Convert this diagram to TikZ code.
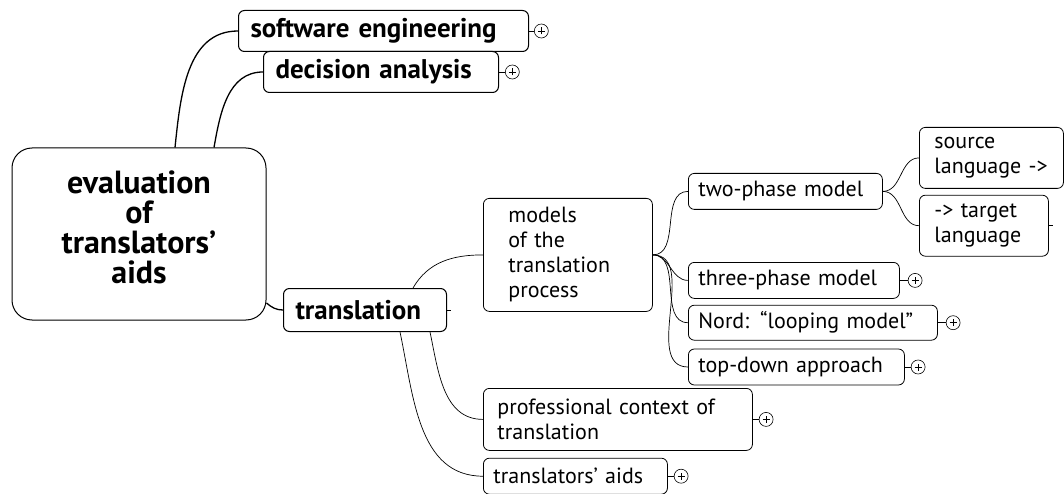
\documentclass[tikz,border=0pt]{standalone}
\usepackage{fontspec}
\setmainfont{PT Sans}
\usepackage{tikz}
\usetikzlibrary{positioning}

\begin{document}
\begin{tikzpicture}[
  x=1pt, y=-1pt,
  node distance=6pt,
  root/.style={draw, line width=1pt, rounded corners=20pt, fill=white, align=center,
    minimum width=254pt, minimum height=172pt, text depth=14pt,
    font=\bfseries\fontsize{32}{30}\selectfont},
  topic/.style={draw, line width=1pt, rounded corners=6pt, fill=white, align=left,
    inner xsep=12pt, minimum height=41pt, font=\bfseries\fontsize{27}{30}\selectfont},
  sub/.style={draw, line width=0.8pt, rounded corners=6pt, fill=white, align=left,
    inner xsep=10pt, minimum height=36pt, font=\fontsize{22}{25}\selectfont},
  plus/.style={circle, draw, line width=0.6pt, minimum size=14pt, inner sep=0pt,
    path picture={\draw[line width=0.6pt]
      ([xshift=-3.5pt]path picture bounding box.center) -- ([xshift=3.5pt]path picture bounding box.center)
      ([yshift=-3.5pt]path picture bounding box.center) -- ([yshift=3.5pt]path picture bounding box.center);}},
  mainlink/.style={line width=1.3pt},
  link/.style={line width=0.7pt}
]
\useasboundingbox (0,0) rectangle (1064,494);

% central topic
\node[root] (root) at (139,234) {evaluation\\of\\translators'\\aids};

% main branches
\node[topic, anchor=north west, text width=266pt] (sweng) at (238,10) {software engineering};
\node[topic, anchor=north west, text width=211pt] (decision) at (263,51) {decision analysis};
\node[topic, anchor=north west, text width=139pt, minimum height=43pt] (transl) at (283,288) {translation};

% translation subtopics
\node[sub, anchor=north west, text width=119pt, inner xsep=25pt, minimum height=113pt] (models) at (483,198)
  {models\\of the\\translation\\process};
\node[sub, anchor=north west, text width=174pt] (twophase) at (688,173) {two-phase model};
\node[sub, anchor=north west, text width=114pt, inner xsep=15pt, minimum height=61pt] (source) at (919,127)
  {source\\language ->};
\node[sub, below=6pt of source.south west, anchor=north west, text width=99pt, inner xsep=15pt,
  minimum height=61pt] (target) {-> target\\language};
\node[sub, anchor=north west, text width=191pt] (three) at (688,262) {three-phase model};
\node[sub, below=6pt of three.south west, anchor=north west, text width=229pt, minimum height=35pt] (nord)
  {Nord: “looping model”};
\node[sub, below=8pt of nord.south west, anchor=north west, text width=196pt] (topdown) {top-down approach};
\node[sub, anchor=north west, text width=241pt, inner xsep=14pt, minimum height=62pt] (context) at (483,388)
  {professional context of\\translation};
\node[sub, below=7pt of context.south west, anchor=north west, text width=164pt] (aids) {translators' aids};

% collapsed markers
\node[plus, right=5pt of sweng] (sweng-p) {};
\node[plus, right=6pt of decision] (decision-p) {};
\node[plus, right=8pt of three] (three-p) {};
\node[plus, right=8pt of nord] (nord-p) {};
\node[plus, right=6pt of topdown] (topdown-p) {};
\node[plus, right=6pt of context] (context-p) {};
\node[plus, right=6pt of aids] (aids-p) {};
\foreach \n in {sweng,decision,three,nord,topdown,context,aids}
  \draw[link] (\n.east) -- (\n-p.west);

% connectors
\draw[mainlink] ([xshift=36pt]root.north) to[out=84,in=180] (sweng.west);
\draw[mainlink] ([xshift=75pt]root.north) to[out=80,in=180] (decision.west);
\draw[mainlink] ([yshift=-69pt]root.east) to[out=-40,in=180] (transl.west);
\draw[link] (transl.east) -- ++(4pt,0);
\draw[link] ([xshift=48pt]transl.north) to[out=60,in=180] (models.west);
\draw[link] ([xshift=65pt]transl.south) to[out=-78,in=180] (context.west);
\draw[link] ([xshift=35pt]transl.south) to[out=-78,in=180] (aids.west);
\foreach \n in {twophase,three,nord,topdown}
  \draw[link] (models.east) to[out=0,in=180] (\n.west);
\draw[link] (twophase.east) to[out=0,in=180] (source.west);
\draw[link] (twophase.east) to[out=0,in=180] (target.west);
\draw[link] (target.east) -- ++(4pt,0);
\end{tikzpicture}
\end{document}
